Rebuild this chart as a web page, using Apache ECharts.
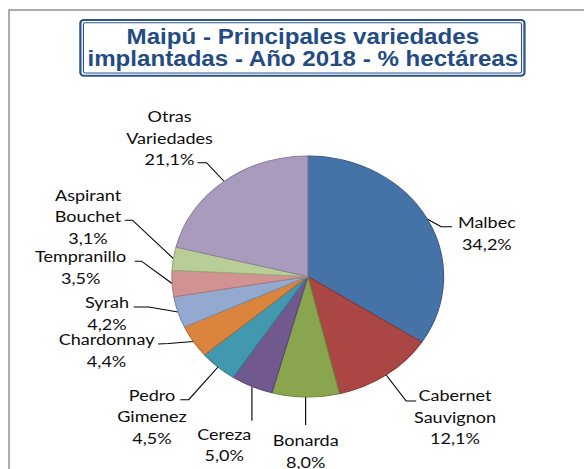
<!DOCTYPE html>
<html>
<head>
<meta charset="utf-8">
<script src="https://cdn.jsdelivr.net/npm/echarts@6/dist/echarts.min.js"></script>
<style>
  html, body { margin: 0; padding: 0; background: #fff; overflow: hidden; width: 584px; height: 469px; }
  /* the chart is laid out narrower and widened, so the pie reads as a slightly wide ellipse */
  #chart { width: 518px; height: 469px; transform: scaleX(1.1274); transform-origin: 0 0; }
</style>
</head>
<body>
<div id="chart"></div>
<script>
// Varieties in slice order (clockwise from 12 o'clock); '\n' marks the label line breaks
const varieties = [
  'Malbec', 'Cabernet\nSauvignon', 'Bonarda', 'Cereza', 'Pedro\nGimenez',
  'Chardonnay', 'Syrah', 'Tempranillo', 'Aspirant\nBouchet', 'Otras\nVariedades'
];
// Share of planted hectares, %
const shares = [34.2, 12.1, 8.0, 5.0, 4.5, 4.4, 4.2, 3.5, 3.1, 21.1];
const sliceColors = [
  '#4572A7', '#AA4643', '#89A54E', '#71588F', '#4198AF',
  '#DB843D', '#93A9CF', '#D19392', '#B9CD96', '#A99BBD'
];
const titleLines = ['Maipú - Principales variedades', 'implantadas - Año 2018 - % hectáreas'];

const STRETCH = 1.1274;

// Leader-line shape per slice, as offsets in page pixels from the slice's edge point:
// bend = first elbow, tail = horizontal run, text = label block (top-center) from the line end
const leaders = [
  { bend: [14, 7.7],     tail: [11, 0],    text: [34.7, -15.2] },
  { bend: [20, 26],      tail: [10, 0],    text: [38.8, -16.9] },
  { bend: [0, 28],       tail: [0, 0],     text: [0, 4.2] },
  { bend: [0, 34.3],     tail: [0, 0],     text: [-27.7, 2.2] },
  { bend: [-29.3, 32.7], tail: [-8.4, 0],  text: [-28.3, -15.9] },
  { bend: [-25, 2],      tail: [-10.3, 0.5], text: [-51.5, -15.9] },
  { bend: [-29.3, -5],   tail: [-15, 0],   text: [-26.7, -15.9] },
  { bend: [-30.7, -22.3], tail: [-6.7, 0], text: [-54.1, -16.2] },
  { bend: [-41, -38.4],  tail: [-7.7, 0],  text: [-36.7, -36.5] },
  { bend: [-17.7, -18.7], tail: [-9, 0],   text: [-28, -57.8] }
];

function darken(hex, k) {
  const n = parseInt(hex.slice(1), 16);
  const r = Math.round(((n >> 16) & 255) * k);
  const g = Math.round(((n >> 8) & 255) * k);
  const b = Math.round((n & 255) * k);
  return 'rgb(' + r + ',' + g + ',' + b + ')';
}

function fmtPct(v) {
  return v.toFixed(1).replace('.', ',') + '%';
}

const pieData = varieties.map(function (name, i) {
  return {
    name: name,
    value: shares[i],
    itemStyle: { color: sliceColors[i], borderColor: darken(sliceColors[i], 0.82) }
  };
});

const chart = echarts.init(document.getElementById('chart'), null, { renderer: 'svg' });

chart.setOption({
  animation: false,
  backgroundColor: '#ffffff',
  graphic: [
    {
      type: 'rect', z: 1, silent: true,
      shape: { x: 8, y: 10, width: 600, height: 600 },
      style: { fill: 'none', stroke: '#8e8e8e', lineWidth: 1.3 }
    },
    {
      type: 'rect', z: 2, silent: true,
      shape: { x: 71.3, y: 20, width: 393.9, height: 55.7, r: 3 },
      style: { fill: '#ffffff', stroke: '#2B538C', lineWidth: 2 }
    },
    {
      type: 'rect', z: 3, silent: true,
      shape: { x: 74, y: 22.8, width: 388.6, height: 50.2, r: 1.5 },
      style: { fill: 'none', stroke: '#2B538C', lineWidth: 1 }
    },
    {
      type: 'text', z: 4, silent: true,
      x: 268.6, y: 25,
      style: {
        text: titleLines.join('\n'),
        fill: '#234C84',
        font: 'bold 21.4px "Liberation Sans", Arial, sans-serif',
        lineHeight: 22.5,
        align: 'center', verticalAlign: 'top',
        textAlign: 'center', textVerticalAlign: 'top'
      }
    }
  ],
  series: [{
    type: 'pie',
    center: [273, 276.5],
    radius: 120.5,
    startAngle: 90,
    clockwise: true,
    avoidLabelOverlap: false,
    minShowLabelAngle: 0,
    emphasis: { disabled: true },
    itemStyle: { borderWidth: 1 },
    label: {
      show: true,
      position: 'outside',
      color: '#0d0d0d',
      fontFamily: 'Lato, "Open Sans", sans-serif',
      fontSize: 16,
      lineHeight: 21.7,
      formatter: function (p) {
        const lines = p.name.split('\n').concat([fmtPct(p.value)]);
        return lines.map(function (l) { return '{t|' + l + '}'; }).join('\n');
      },
      rich: {
        t: {
          align: 'center',
          color: '#0d0d0d',
          fontFamily: 'Lato, "Open Sans", sans-serif',
          fontSize: 16,
          lineHeight: 21.7
        }
      }
    },
    labelLine: {
      show: true,
      length: 15,
      length2: 10,
      lineStyle: { color: '#000', width: 1 }
    },
    labelLayout: function (p) {
      const pts = p.labelLinePoints;
      const g = leaders[p.dataIndex];
      if (!pts || !g) return {};
      const a = [pts[0][0], pts[0][1]];
      const b = [a[0] + g.bend[0] / STRETCH, a[1] + g.bend[1]];
      const c = [b[0] + g.tail[0] / STRETCH, b[1] + g.tail[1]];
      return {
        x: c[0] + g.text[0] / STRETCH,
        y: c[1] + g.text[1],
        align: 'center',
        verticalAlign: 'top',
        labelLinePoints: [a, b, c]
      };
    },
    data: pieData
  }]
});
</script>
</body>
</html>
